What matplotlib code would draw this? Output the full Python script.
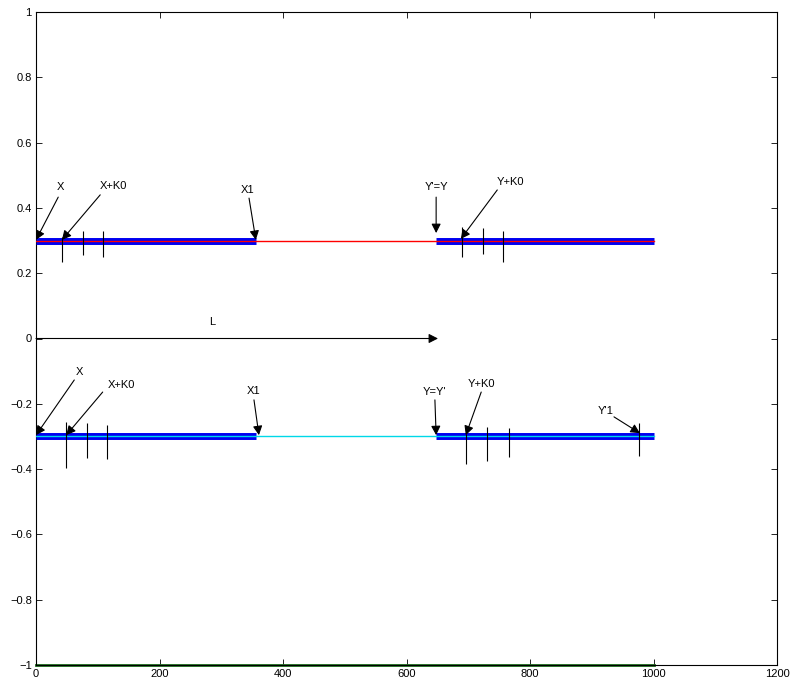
import matplotlib
matplotlib.use("Agg")
import matplotlib.pyplot as plt

plt.rcParams['font.family'] = ['Liberation Sans', 'DejaVu Sans']

# ---- data ----
line_x = [0, 1000]
upper_y = 0.3
lower_y = -0.3
floor_y = -1
segments = [(0, 356), (648, 1000)]

upper_ticks_x = [42, 76, 108, 690, 724, 756]
upper_ticks_lo = [0.234, 0.256, 0.250, 0.250, 0.259, 0.234]
upper_ticks_hi = [0.311, 0.329, 0.329, 0.342, 0.339, 0.329]

lower_ticks_x = [49, 83, 115, 696, 730, 766, 977]
lower_ticks_lo = [-0.397, -0.366, -0.369, -0.384, -0.375, -0.363, -0.360]
lower_ticks_hi = [-0.256, -0.259, -0.265, -0.292, -0.271, -0.274, -0.259]

ann_labels = ["X", "X+K0", "X1", "Y'=Y", "Y+K0",
              "X", "X+K0", "X1", "Y=Y'", "Y+K0", "Y'1"]
ann_text_xy = [(39, 0.464), (125, 0.467), (343, 0.455), (648, 0.464), (769, 0.479),
               (70, -0.103), (139, -0.142), (353, -0.161), (646, -0.164), (721, -0.139), (923, -0.222)]
ann_tail_xy = [(36, 0.433), (104, 0.440), (345, 0.430), (648, 0.433), (747, 0.455),
               (62, -0.127), (108, -0.164), (353, -0.188), (646, -0.188), (721, -0.164), (936, -0.240)]
ann_tip_xy = [(0, 0.302), (42, 0.302), (356, 0.302), (648, 0.323), (688, 0.305),
              (0, -0.296), (49, -0.296), (361, -0.296), (648, -0.296), (696, -0.296), (978, -0.290)]

L_label = "L"
L_text_xy = (285, 0.05)
L_start = (0, 0)
L_end = (651, 0)

xticks = [0, 200, 400, 600, 800, 1000, 1200]
yticks = [-1, -0.8, -0.6, -0.4, -0.2, 0, 0.2, 0.4, 0.6, 0.8, 1]
ytick_labels = ["\u22121", "\u22120.8", "\u22120.6", "\u22120.4", "\u22120.2", "0",
                "0.2", "0.4", "0.6", "0.8", "1"]

# ---- figure ----
fig = plt.figure(figsize=(7.94, 6.87), dpi=100)
ax = fig.add_axes([36 / 794, 22 / 687, 741 / 794, 653 / 687])

# floor line
ax.plot(line_x, [floor_y, floor_y], color='#1a6b1a', lw=2.0, zorder=2, clip_on=False)

# thick blue segments
for (a, b) in segments:
    ax.plot([a, b], [upper_y, upper_y], color='#0000f0', lw=5.0, solid_capstyle='butt', zorder=3)
    ax.plot([a, b], [lower_y, lower_y], color='#0000f0', lw=5.0, solid_capstyle='butt', zorder=3)

# thin lines
ax.plot(line_x, [upper_y, upper_y], color='#ff0000', lw=1.0, zorder=4)
ax.plot(line_x, [lower_y, lower_y], color='#00d8e8', lw=1.0, zorder=4)

# vertical marks
ax.vlines(upper_ticks_x, upper_ticks_lo, upper_ticks_hi, color='black', lw=0.8, zorder=5)
ax.vlines(lower_ticks_x, lower_ticks_lo, lower_ticks_hi, color='black', lw=0.8, zorder=5)

arrow_kw = dict(arrowstyle='-|>,head_length=0.55,head_width=0.28', color='black',
                lw=0.8, shrinkA=0, shrinkB=0)

for lab, txy, tail, tip in zip(ann_labels, ann_text_xy, ann_tail_xy, ann_tip_xy):
    ax.text(txy[0], txy[1], lab, ha='center', va='center', fontsize=8, zorder=6)
    ax.annotate('', xy=tip, xytext=tail, arrowprops=arrow_kw, zorder=6)

ax.text(L_text_xy[0], L_text_xy[1], L_label, ha='center', va='center', fontsize=8)
ax.annotate('', xy=L_end, xytext=L_start, arrowprops=arrow_kw)

ax.set_xlim(0, 1200)
ax.set_ylim(-1, 1)
ax.set_xticks(xticks)
ax.set_yticks(yticks)
ax.set_yticklabels(ytick_labels)
ax.tick_params(direction='in', length=4, width=0.6, labelsize=8, top=True, right=True, pad=3)
for s in ax.spines.values():
    s.set_linewidth(0.8)

fig.savefig('out.png', dpi=100)
